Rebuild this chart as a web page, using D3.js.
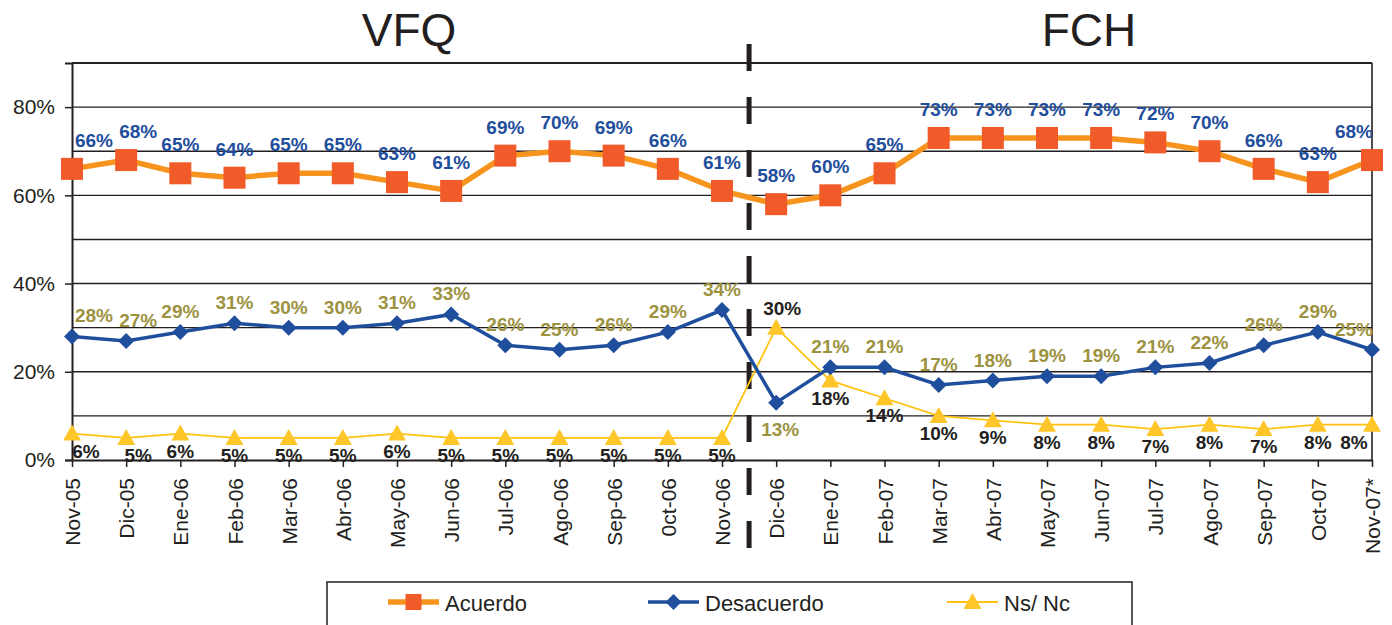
<!DOCTYPE html>
<html>
<head>
<meta charset="utf-8">
<script src="https://cdn.jsdelivr.net/npm/d3@7"></script>
<style>
  html, body { margin: 0; padding: 0; background: #fff; }
  svg { display: block; font-family: Arial, "Liberation Sans", Helvetica, sans-serif; }
</style>
</head>
<body>
<div id="container"></div>
<script>
const { d3 } = window;

// data (percent)
const MONTHS = ['Nov-05', 'Dic-05', 'Ene-06', 'Feb-06', 'Mar-06', 'Abr-06', 'May-06', 'Jun-06', 'Jul-06',
  'Ago-06', 'Sep-06', '0ct-06', 'Nov-06', 'Dic-06', 'Ene-07', 'Feb-07', 'Mar-07', 'Abr-07', 'May-07',
  'Jun-07', 'Jul-07', 'Ago-07', 'Sep-07', 'Oct-07', 'Nov-07*'];
const ACUERDO = [66, 68, 65, 64, 65, 65, 63, 61, 69, 70, 69, 66, 61, 58, 60, 65, 73, 73, 73, 73, 72, 70, 66, 63, 68];
const DESACUERDO = [28, 27, 29, 31, 30, 30, 31, 33, 26, 25, 26, 29, 34, 13, 21, 21, 17, 18, 19, 19, 21, 22, 26, 29, 25];
const NSNC = [6, 5, 6, 5, 5, 5, 6, 5, 5, 5, 5, 5, 5, 30, 18, 14, 10, 9, 8, 8, 7, 8, 7, 8, 8];
const Y_TICKS = [0, 20, 40, 60, 80];
const PERIODS = ['VFQ', 'FCH'];

const W = 1392;
const H = 625;
const INK = '#231f20';
const BLUE = '#1f4e9c';
const OLIVE = '#9c9240';

const svg = d3.select('#container').append('svg')
  .attr('width', W)
  .attr('height', H);

const x = d3.scalePoint().domain(MONTHS).range([72, 1372]);
const y = d3.scaleLinear().domain([0, 90]).range([460, 63]);

// grid every 10%
svg.append('g')
  .selectAll('line')
  .data(d3.range(10, 91, 10))
  .join('line')
  .attr('x1', 72).attr('x2', 1372)
  .attr('y1', (d) => y(d)).attr('y2', (d) => y(d))
  .attr('stroke', INK)
  .attr('stroke-width', (d) => (d === 90 ? 2 : 1.4));

// right border
svg.append('line')
  .attr('x1', 1372).attr('x2', 1372)
  .attr('y1', y(90)).attr('y2', y(0))
  .attr('stroke', INK).attr('stroke-width', 1.6);

// y axis
const yAxis = svg.append('g')
  .attr('transform', 'translate(72,0)')
  .call(d3.axisLeft(y).tickValues(Y_TICKS).tickSize(7).tickFormat((d) => `${d}%`));
yAxis.select('.domain').attr('stroke', INK).attr('stroke-width', 2);
yAxis.selectAll('.tick line').attr('stroke', INK).attr('stroke-width', 1.5);
yAxis.selectAll('.tick text')
  .attr('x', -17)
  .attr('fill', INK)
  .style('font-size', '21px')
  .style('font-family', 'Arial, "Liberation Sans", sans-serif');

// x axis
const xAxis = svg.append('g')
  .attr('transform', `translate(0,${y(0)})`)
  .call(d3.axisBottom(x).tickSize(7).tickSizeOuter(0));
xAxis.select('.domain').attr('stroke', INK).attr('stroke-width', 2);
xAxis.selectAll('.tick line').attr('stroke', INK).attr('stroke-width', 1.5);
xAxis.selectAll('.tick text')
  .attr('transform', 'rotate(-90)')
  .attr('x', -18)
  .attr('y', 0)
  .attr('dy', '0.36em')
  .attr('text-anchor', 'end')
  .attr('fill', INK)
  .style('font-size', '21px')
  .style('font-family', 'Arial, "Liberation Sans", sans-serif');

// period divider between Nov-06 and Dic-06
const splitX = (x('Nov-06') + x('Dic-06')) / 2;
svg.append('line')
  .attr('x1', splitX).attr('x2', splitX)
  .attr('y1', 44).attr('y2', 550)
  .attr('stroke', INK)
  .attr('stroke-width', 5)
  .attr('stroke-dasharray', '27 26');

// period titles
svg.append('g')
  .selectAll('text')
  .data(PERIODS)
  .join('text')
  .attr('x', (d, i) => (i === 0 ? 409 : 1089))
  .attr('y', 46)
  .attr('text-anchor', 'middle')
  .attr('fill', INK)
  .style('font-size', '46px')
  .text((d) => d);

const line = d3.line()
  .x((d, i) => x(MONTHS[i]))
  .y((d) => y(d));

// Ns/Nc
svg.append('path')
  .datum(NSNC)
  .attr('d', line)
  .attr('fill', 'none')
  .attr('stroke', '#ffc20e')
  .attr('stroke-width', 1.8);

svg.append('g')
  .selectAll('path')
  .data(NSNC)
  .join('path')
  .attr('transform', (d, i) => `translate(${x(MONTHS[i])},${y(d)})`)
  .attr('d', 'M0,-9L9,7L-9,7Z')
  .attr('fill', '#ffc629');

// Desacuerdo
svg.append('path')
  .datum(DESACUERDO)
  .attr('d', line)
  .attr('fill', 'none')
  .attr('stroke', BLUE)
  .attr('stroke-width', 3.5);

svg.append('g')
  .selectAll('path')
  .data(DESACUERDO)
  .join('path')
  .attr('transform', (d, i) => `translate(${x(MONTHS[i])},${y(d)})`)
  .attr('d', 'M0,-8L8,0L0,8L-8,0Z')
  .attr('fill', BLUE);

// Acuerdo
svg.append('path')
  .datum(ACUERDO)
  .attr('d', line)
  .attr('fill', 'none')
  .attr('stroke', '#f7941d')
  .attr('stroke-width', 5.5);

svg.append('g')
  .selectAll('rect')
  .data(ACUERDO)
  .join('rect')
  .attr('x', (d, i) => x(MONTHS[i]) - 11)
  .attr('y', (d) => y(d) - 11)
  .attr('width', 22)
  .attr('height', 22)
  .attr('fill', '#f15a29');

// data labels
const last = MONTHS.length - 1;
const DIC06 = MONTHS.indexOf('Dic-06');

function edgeShift(i) {
  if (i === 0) return 22;
  if (i === 1) return 12;
  if (i === last) return -18;
  return 0;
}

function addLabels(values, color, dy, opts = {}) {
  svg.append('g')
    .selectAll('text')
    .data(values)
    .join('text')
    .attr('x', (d, i) => x(MONTHS[i]) + edgeShift(i) + (opts.dx ? opts.dx(i) : 0))
    .attr('y', (d, i) => y(d) + (opts.dyAt ? opts.dyAt(i, dy) : dy))
    .attr('text-anchor', 'middle')
    .attr('fill', color)
    .style('font-size', '19px')
    .style('font-weight', 'bold')
    .text((d) => `${d}%`);
}

addLabels(ACUERDO, BLUE, -22);
addLabels(DESACUERDO, OLIVE, -14, {
  dyAt: (i, dy) => (i === DIC06 ? 33 : dy),
  dx: (i) => (i === DIC06 ? 4 : 0),
});
addLabels(NSNC, INK, 24, {
  dyAt: (i, dy) => (i === DIC06 ? -13 : dy),
  dx: (i) => (i === 0 ? -8 : (i === DIC06 ? 6 : 0)),
});

// legend
const legend = svg.append('g');
legend.append('rect')
  .attr('x', 327)
  .attr('y', 582)
  .attr('width', 805)
  .attr('height', 70)
  .attr('fill', '#fff')
  .attr('stroke', INK)
  .attr('stroke-width', 1.5);

const LEGEND_ITEMS = [
  { name: 'Acuerdo', x: 388, stroke: '#f7941d', sw: 5.5, fill: '#f15a29', marker: 'M-8,-8H8V8H-8Z' },
  { name: 'Desacuerdo', x: 648, stroke: BLUE, sw: 3.5, fill: BLUE, marker: 'M0,-8L8,0L0,8L-8,0Z' },
  { name: 'Ns/ Nc', x: 947, stroke: '#ffc20e', sw: 1.8, fill: '#ffc629', marker: 'M0,-9L9,7L-9,7Z' },
];

const item = legend.selectAll('g')
  .data(LEGEND_ITEMS)
  .join('g')
  .attr('transform', (d) => `translate(${d.x},602)`);

item.append('line')
  .attr('x1', 0).attr('x2', 51)
  .attr('stroke', (d) => d.stroke)
  .attr('stroke-width', (d) => d.sw);

item.append('path')
  .attr('transform', 'translate(25.5,0)')
  .attr('d', (d) => d.marker)
  .attr('fill', (d) => d.fill);

item.append('text')
  .attr('x', 57)
  .attr('y', 9)
  .attr('fill', INK)
  .style('font-size', '22px')
  .text((d) => d.name);
</script>
</body>
</html>
